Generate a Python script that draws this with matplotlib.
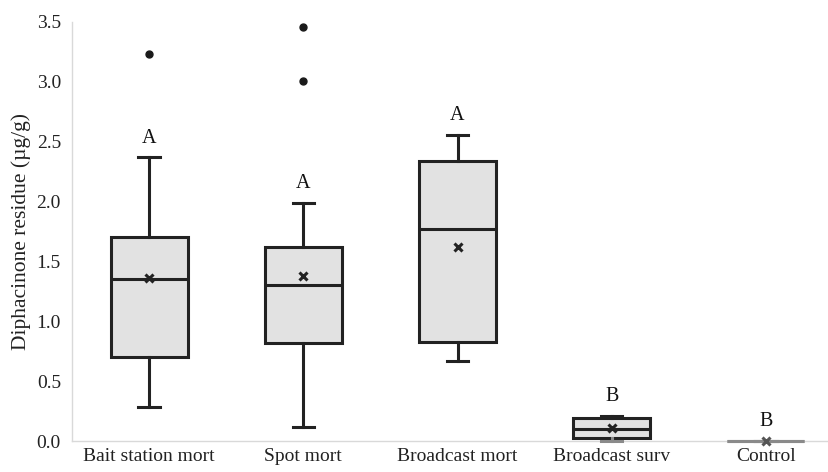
import matplotlib
matplotlib.use("Agg")
import matplotlib.pyplot as plt

categories = ["Bait station mort", "Spot mort", "Broadcast mort", "Broadcast surv", "Control"]
whislo = [0.28, 0.12, 0.67, 0.00, 0.00]
q1 = [0.70, 0.82, 0.83, 0.025, 0.00]
med = [1.35, 1.30, 1.77, 0.10, 0.00]
q3 = [1.70, 1.62, 2.34, 0.19, 0.00]
whishi = [2.37, 1.99, 2.56, 0.21, 0.00]
means = [1.36, 1.38, 1.62, 0.11, 0.00]
fliers = [[3.23], [3.46, 3.01], [], [], []]
letters = ["A", "A", "A", "B", "B"]
yticks = [0.0, 0.5, 1.0, 1.5, 2.0, 2.5, 3.0, 3.5]

plt.rcParams['font.family'] = ['Liberation Serif', 'DejaVu Serif']

fig = plt.figure(figsize=(8.29, 4.72), dpi=100)
ax = fig.add_axes([72/829, 31/472, (843-72)/829, (441-22)/472])

stats = []
for i, c in enumerate(categories):
    stats.append(dict(label=c, whislo=whislo[i], q1=q1[i], med=med[i], q3=q3[i],
                      whishi=whishi[i], mean=means[i], fliers=fliers[i]))

edge = "#222222"
bp = ax.bxp(stats, positions=range(len(categories)), widths=0.5, patch_artist=True,
            showmeans=True, showcaps=True,
            boxprops=dict(facecolor="#e2e2e2", edgecolor=edge, linewidth=2.2),
            medianprops=dict(color=edge, linewidth=2.2),
            whiskerprops=dict(color=edge, linewidth=2.2),
            capprops=dict(color=edge, linewidth=2.2),
            meanprops=dict(marker="x", markeredgecolor=edge, markerfacecolor=edge,
                           markersize=6, markeredgewidth=2.2),
            flierprops=dict(marker="o", markerfacecolor="#1a1a1a", markeredgecolor="#1a1a1a",
                            markersize=5))
for cap in bp['caps']:
    x = cap.get_xdata()
    m = (x[0] + x[1]) / 2
    cap.set_xdata([m - 0.07, m + 0.07])
    cap.set_clip_on(False)
for key in ['boxes', 'medians', 'whiskers', 'means']:
    for art in bp[key]:
        art.set_clip_on(False)

# Control: zero-height box appears gray
last = len(categories) - 1
gray = "#8a8a8a"
bp['boxes'][last].set_edgecolor(gray)
bp['medians'][last].set_color(gray)
bp['means'][last].set_markeredgecolor("#555555")
for art in bp['whiskers'][2*last:2*last+2] + bp['caps'][2*last:2*last+2]:
    art.set_color(gray)
# lower whisker/cap of Broadcast surv sits on the axis line and appears gray
bp['whiskers'][2*3].set_color(gray)
bp['caps'][2*3].set_color(gray)

for i, l in enumerate(letters):
    ax.text(i, whishi[i] + 0.16, l, ha="center", va="center", fontsize=14.5, color="#111111")

ax.set_xlim(-0.5, len(categories) - 0.5)
ax.set_ylim(0, 3.5)
ax.set_yticks(yticks)
ax.set_yticklabels([f"{v:.1f}" for v in yticks])
ax.tick_params(axis="both", length=0, labelsize=14, colors="#222222")
ax.tick_params(axis="y", pad=8)
ax.tick_params(axis="x", pad=5)
ax.set_ylabel("Diphacinone residue (µg/g)", fontsize=15.5, color="#222222", labelpad=4)

for s in ["top", "right"]:
    ax.spines[s].set_visible(False)
ax.spines["left"].set_color("#d9d9d9")
ax.spines["left"].set_linewidth(1)
ax.spines["bottom"].set_color("#d9d9d9")
ax.spines["bottom"].set_linewidth(1)
ax.spines["bottom"].set_zorder(0)

fig.savefig("out.png", dpi=100)
